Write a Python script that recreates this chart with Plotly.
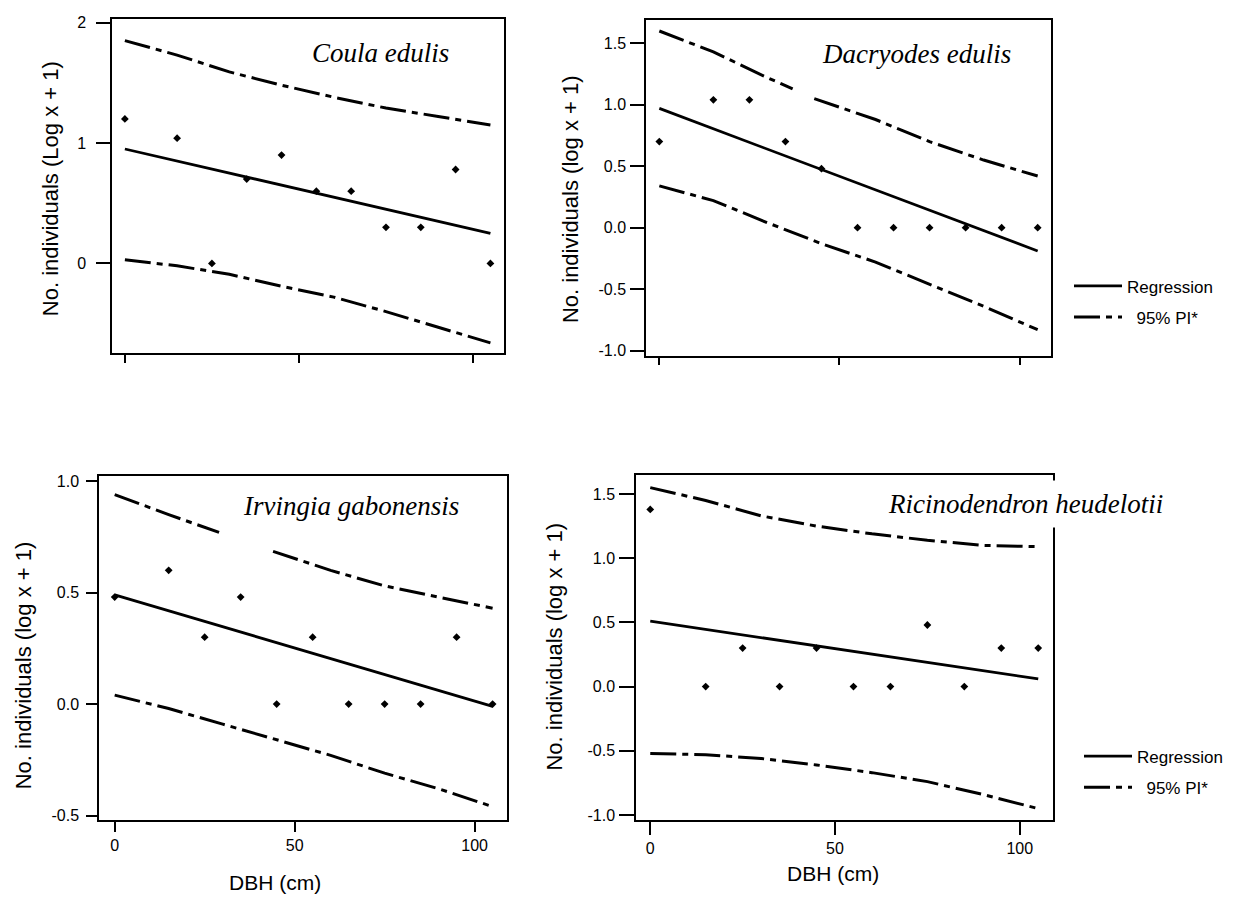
import plotly.graph_objects as go

"""
Data read from the figure
"""

dbh = [0, 15, 25, 35, 45, 55, 65, 75, 85, 95, 105]
reg_x = [0, 105]
pi_x = [0, 15, 30, 45, 60, 75, 90, 105]

coula_obs = [1.20, 1.04, 0.0, 0.70, 0.90, 0.60, 0.60, 0.30, 0.30, 0.78, 0.0]
coula_reg = [0.95, 0.25]
coula_upper = [1.85, 1.73, 1.59, 1.48, 1.38, 1.29, 1.22, 1.15]
coula_lower = [0.03, -0.02, -0.09, -0.19, -0.28, -0.40, -0.53, -0.66]

dacryodes_obs = [0.70, 1.04, 1.04, 0.70, 0.48, 0.0, 0.0, 0.0, 0.0, 0.0, 0.0]
dacryodes_reg = [0.97, -0.19]
dacryodes_upper_x = [0, 15, 30, 37, None, 43, 60, 75, 90, 105]
dacryodes_upper = [1.60, 1.43, 1.22, 1.13, None, 1.05, 0.88, 0.70, 0.55, 0.42]
dacryodes_lower = [0.34, 0.22, 0.04, -0.13, -0.28, -0.46, -0.64, -0.83]

irvingia_obs = [0.48, 0.60, 0.30, 0.48, 0.0, 0.30, 0.0, 0.0, 0.0, 0.30, 0.0]
irvingia_reg = [0.49, -0.01]
irvingia_upper_x = [0, 15, 29, None, 44, 60, 75, 90, 105]
irvingia_upper = [0.94, 0.85, 0.77, None, 0.685, 0.60, 0.53, 0.48, 0.43]
irvingia_lower = [0.04, -0.02, -0.09, -0.16, -0.23, -0.31, -0.38, -0.46]

ricino_obs = [1.38, 0.0, 0.30, 0.0, 0.30, 0.0, 0.0, 0.48, 0.0, 0.30, 0.30]
ricino_reg = [0.51, 0.06]
ricino_upper = [1.55, 1.45, 1.33, 1.25, 1.19, 1.14, 1.10, 1.09]
ricino_lower = [-0.52, -0.53, -0.56, -0.61, -0.67, -0.74, -0.84, -0.95]

x_tickvals = [0, 50, 100]
x_ticktext = ['0', '50', '100']
coula_yticks = [0, 1, 2]
coula_yticktext = ['0', '1', '2']
wide_yticks = [-1.0, -0.5, 0.0, 0.5, 1.0, 1.5]
wide_yticktext = ['-1.0', '-0.5', '0.0', '0.5', '1.0', '1.5']
irvingia_yticks = [-0.5, 0.0, 0.5, 1.0]
irvingia_yticktext = ['-0.5', '0.0', '0.5', '1.0']

# page is 1235x899, the html body adds an 8px margin round the figure
W, H = 1227, 891
OFF = 8
PI_DASH = '26px,6px,6px,6px'


def px_x(v):
    return (v - OFF) / W


def px_y(v):
    return 1 - (v - OFF) / H


def add_panel(fig, n, obs, reg, up_x, up, lo, legend=None):
    xa = 'x' if n == 1 else 'x%d' % n
    ya = 'y' if n == 1 else 'y%d' % n
    show = legend is not None
    fig.add_trace(go.Scatter(x=dbh, y=obs, mode='markers', xaxis=xa, yaxis=ya,
                             marker={'symbol': 'diamond', 'size': 6, 'color': 'black'},
                             showlegend=False))
    fig.add_trace(go.Scatter(x=reg_x, y=reg, mode='lines', xaxis=xa, yaxis=ya,
                             name='Regression', line={'color': 'black', 'width': 2.8},
                             showlegend=show, legend=legend or 'legend',
                             legendgroup='reg%d' % n))
    fig.add_trace(go.Scatter(x=up_x, y=up, mode='lines', xaxis=xa, yaxis=ya,
                             name='\u00a0\u00a095% PI*', connectgaps=False,
                             line={'color': 'black', 'width': 3, 'dash': PI_DASH},
                             showlegend=show, legend=legend or 'legend',
                             legendgroup='pi%d' % n))
    fig.add_trace(go.Scatter(x=pi_x, y=lo, mode='lines', xaxis=xa, yaxis=ya,
                             line={'color': 'black', 'width': 3, 'dash': PI_DASH},
                             showlegend=False))


fig = go.Figure()
add_panel(fig, 1, coula_obs, coula_reg, pi_x, coula_upper, coula_lower)
add_panel(fig, 2, dacryodes_obs, dacryodes_reg, dacryodes_upper_x, dacryodes_upper,
          dacryodes_lower, legend='legend')
add_panel(fig, 3, irvingia_obs, irvingia_reg, irvingia_upper_x, irvingia_upper, irvingia_lower)
add_panel(fig, 4, ricino_obs, ricino_reg, pi_x, ricino_upper, ricino_lower, legend='legend2')

common = dict(showline=True, mirror=True, linecolor='black', linewidth=1.5,
              ticks='outside', tickwidth=1.5, tickcolor='black',
              showgrid=False, zeroline=False)

# panel boxes in page pixels: left, right, top, bottom
boxes = {
    1: (112, 504, 14, 351),
    2: (646, 1051, 15, 354),
    3: (99, 507, 476, 823),
    4: (636, 1053, 475, 823),
}
xranges = {1: [-3.7, 108.9], 2: [-3.7, 108.7], 3: [-4.36, 109], 4: [-3.86, 109]}
yranges = {1: [-0.74, 2.03], 2: [-1.04, 1.69], 3: [-0.519, 1.022], 4: [-1.037, 1.646]}
yticks = {1: (coula_yticks, coula_yticktext), 2: (wide_yticks, wide_yticktext),
          3: (irvingia_yticks, irvingia_yticktext), 4: (wide_yticks, wide_yticktext)}
yticklen = {1: 14, 2: 14, 3: 11, 4: 15}
ystandoff = {1: 7, 2: 1, 3: 4, 4: 1}
xticklen = {1: 9, 2: 8, 3: 10, 4: 13}

layout = {}
for n, (l, r, t, b) in boxes.items():
    xkey = 'xaxis' if n == 1 else 'xaxis%d' % n
    ykey = 'yaxis' if n == 1 else 'yaxis%d' % n
    xa = 'x' if n == 1 else 'x%d' % n
    ya = 'y' if n == 1 else 'y%d' % n
    tfont = {'family': 'Arial, Liberation Sans', 'size': 16, 'color': 'black'}
    layout[xkey] = dict(common, domain=[px_x(l), px_x(r)], range=xranges[n], anchor=ya,
                        tickvals=x_tickvals, ticktext=x_ticktext, ticklen=xticklen[n],
                        tickfont=tfont, showticklabels=n in (3, 4))
    layout[ykey] = dict(common, domain=[px_y(b), px_y(t)], range=yranges[n], anchor=xa,
                        tickvals=yticks[n][0], ticktext=yticks[n][1], ticklen=yticklen[n],
                        ticklabelstandoff=ystandoff[n], tickfont=tfont)

fig.update_layout(**layout)


def serif(size):
    return {'family': 'Liberation Serif, Times New Roman', 'size': size, 'color': 'black'}


label_font = {'family': 'Arial, Liberation Sans', 'size': 22, 'color': 'black'}
annotations = [
    dict(text='<i>Coula edulis</i>', x=px_x(380), y=px_y(48), font=serif(27)),
    dict(text='<i>Dacryodes edulis</i>', x=px_x(916), y=px_y(49), font=serif(27)),
    dict(text='<i>Irvingia gabonensis</i>', x=px_x(351), y=px_y(506), font=serif(27)),
    dict(text='<i>Ricinodendron heudelotii</i>', x=px_x(1025), y=px_y(504), font=serif(27),
         bgcolor='white', borderpad=8),
    dict(text='No. individuals (Log x + 1)', x=px_x(50), y=px_y(186), textangle=-90,
         font=label_font),
    dict(text='No. individuals (log x + 1)', x=px_x(570), y=px_y(196), textangle=-90,
         font=label_font),
    dict(text='No. individuals (log x + 1)', x=px_x(23), y=px_y(667), textangle=-90,
         font=label_font),
    dict(text='No. individuals (log x + 1)', x=px_x(555), y=px_y(648), textangle=-90,
         font=label_font),
    dict(text='DBH (cm)', x=px_x(275), y=px_y(886), font=dict(label_font, size=21)),
    dict(text='DBH (cm)', x=px_x(833), y=px_y(877), font=dict(label_font, size=21)),
]
for a in annotations:
    a.update(xref='paper', yref='paper', showarrow=False, xanchor='center', yanchor='middle')

legend_style = {
    'font': {'family': 'Arial, Liberation Sans', 'size': 17, 'color': 'black'},
    'bgcolor': 'rgba(0,0,0,0)',
    'traceorder': 'grouped',
    'tracegroupgap': 6,
    'xanchor': 'left',
    'yanchor': 'top',
    'itemwidth': 48,
}

fig.update_layout(
    width=W,
    height=H,
    autosize=False,
    margin={'l': 0, 'r': 0, 't': 0, 'b': 0, 'pad': 0},
    paper_bgcolor='white',
    plot_bgcolor='white',
    showlegend=True,
    annotations=annotations,
    legend=dict(legend_style, x=px_x(1069), y=px_y(266)),
    legend2=dict(legend_style, x=px_x(1079), y=px_y(741)),
)

fig.write_html('out.html')
